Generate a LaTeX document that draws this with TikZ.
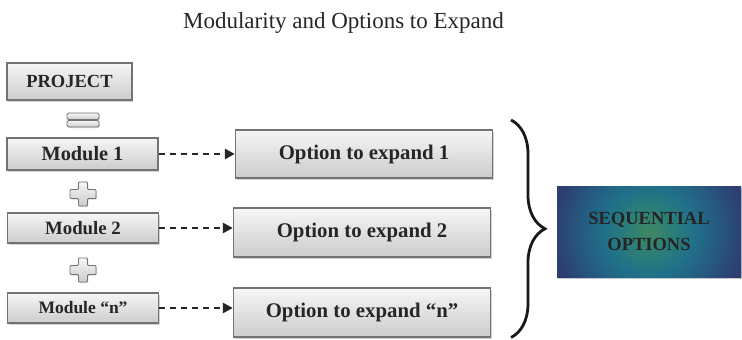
\documentclass[tikz,border=0pt]{standalone}
\usepackage{fontspec}
\setmainfont{Liberation Serif}
\usetikzlibrary{shadows,decorations.pathreplacing,arrows.meta}
\definecolor{boxtop}{RGB}{246,246,246}
\definecolor{boxbot}{RGB}{204,204,204}
\definecolor{boxline}{RGB}{115,115,115}
\definecolor{seqtext}{RGB}{36,36,36}
\pgfdeclareradialshading{seqshade}{\pgfpoint{0bp}{0bp}}{%
  color(0bp)=(rgb,255:red,64;green,136;blue,98);
  color(4.8bp)=(rgb,255:red,45;green,128;blue,118);
  color(10.7bp)=(rgb,255:red,32;green,112;blue,138);
  color(16.7bp)=(rgb,255:red,38;green,88;blue,128);
  color(21.9bp)=(rgb,255:red,44;green,66;blue,116);
  color(25bp)=(rgb,255:red,45;green,58;blue,110);
  color(50bp)=(rgb,255:red,45;green,58;blue,110)}
\tikzset{
  gbox/.style={draw=boxline, line width=1.3pt, top color=boxtop, bottom color=boxbot,
    drop shadow={shadow xshift=1.2pt, shadow yshift=-1.5pt, opacity=0.35},
    inner sep=0pt, font=\bfseries, text=black!85},
  symb/.style={draw=boxline, line width=0.9pt, top color=boxtop, bottom color=boxbot,
    drop shadow={shadow xshift=0.8pt, shadow yshift=-1pt, opacity=0.3}},
  darrow/.style={line width=2.8pt, dash pattern=on 6pt off 5pt,
    -{Triangle[length=10pt,width=10pt]}, black!85},
}
\begin{document}
\begin{tikzpicture}[x=1pt,y=-1pt]
\useasboundingbox (0,0) rectangle (742,340);
% title
\node[font=\fontsize{23}{26}\selectfont, text=black!85, anchor=base] (title) at (343.5,28) {Modularity and Options to Expand};
% left column
\node[gbox, minimum width=125pt, minimum height=37pt, font=\fontsize{18.5}{20}\selectfont\bfseries] (proj) at (69.5,81.5) {PROJECT};
\node[gbox, minimum width=151pt, minimum height=32pt, font=\fontsize{20.3}{22}\selectfont\bfseries] (m1) at (82.5,154) {Module 1};
\node[gbox, minimum width=151pt, minimum height=30pt, font=\fontsize{18.8}{21}\selectfont\bfseries] (m2) at (83,228) {Module 2};
\node[gbox, minimum width=151pt, minimum height=30pt, font=\fontsize{17.5}{20}\selectfont\bfseries] (mn) at (83,308) {Module “n”};
% equals sign
\draw[symb, rounded corners=1.5pt] (67,113) rectangle (99,119.5);
\draw[symb, rounded corners=1.5pt] (67,120.5) rectangle (99,127);
% plus signs
\foreach \cy in {194,270}{
  \draw[symb, rounded corners=1pt]
    (78.5,\cy-12) -- (87.5,\cy-12) -- (87.5,\cy-4.5) -- (96,\cy-4.5) -- (96,\cy+4.5)
    -- (87.5,\cy+4.5) -- (87.5,\cy+12) -- (78.5,\cy+12) -- (78.5,\cy+4.5) -- (70,\cy+4.5)
    -- (70,\cy-4.5) -- (78.5,\cy-4.5) -- cycle;
}
% option boxes
\node[gbox, minimum width=257pt, minimum height=48pt, font=\fontsize{20.8}{24}\selectfont\bfseries] (o1) at (364,154) {Option to expand 1};
\node[gbox, minimum width=257pt, minimum height=49pt, font=\fontsize{20.8}{24}\selectfont\bfseries] (o2) at (362,232.5) {Option to expand 2};
\node[gbox, minimum width=257pt, minimum height=49pt, font=\fontsize{20.8}{24}\selectfont\bfseries] (on) at (362,312.5) {Option to expand “n”};
% dashed arrows
\draw[darrow] (m1.east) -- (m1.east -| o1.west);
\draw[darrow] (m2.east) -- (m2.east -| o2.west);
\draw[darrow] (mn.east) -- (mn.east -| on.west);
% brace
\coordinate (btop) at (511,120);
\coordinate (bbot) at (511,337.5);
\draw[line width=2.8pt, black!90, decorate, decoration={brace, amplitude=34pt}] (btop) -- (bbot);
% sequential options
\node[draw=none,
  drop shadow={shadow xshift=1pt, shadow yshift=-2pt, opacity=0.45},
  path picture={\shade[shading=seqshade] (path picture bounding box.center) circle[radius=105pt];},
  minimum width=184pt, minimum height=91pt, inner sep=0pt,
  align=center, font=\fontsize{18.5}{26}\selectfont\bfseries, text=seqtext] (seq) at (649,231.5) {SEQUENTIAL\\OPTIONS};
\end{tikzpicture}
\end{document}
